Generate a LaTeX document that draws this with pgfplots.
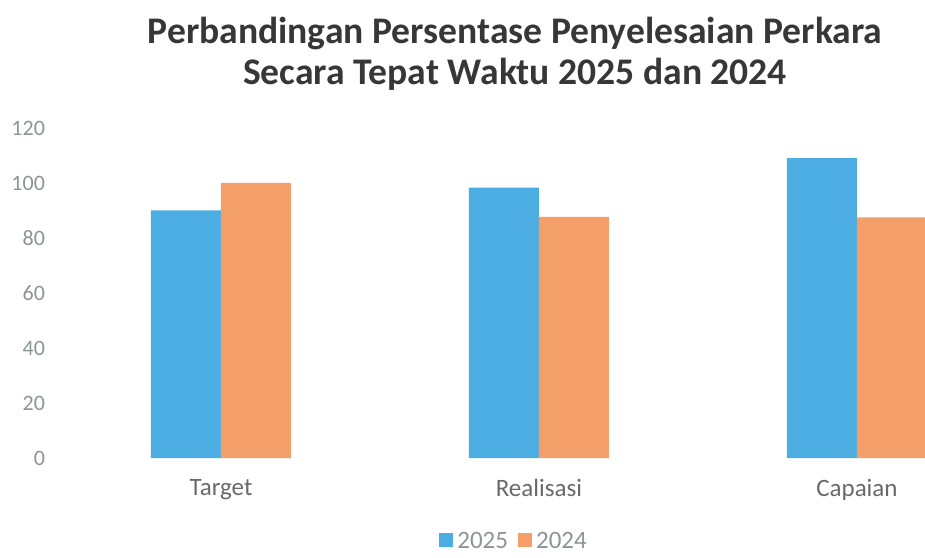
\documentclass[border=0pt]{standalone}
\usepackage{fontspec}
\setmainfont{Carlito}
\usepackage{pgfplots}
\pgfplotsset{compat=1.18}
\definecolor{b25}{RGB}{75,173,226}
\definecolor{o24}{RGB}{244,158,106}
\definecolor{tickgray}{RGB}{140,148,152}
\definecolor{labgray}{RGB}{105,105,105}
\definecolor{titlegray}{RGB}{55,55,55}
\begin{document}
\begin{tikzpicture}[x=1pt,y=1pt]
\useasboundingbox (0,0) rectangle (462.5,278.5);
\node[font=\bfseries\fontsize{18.8}{22}\selectfont, text=titlegray] at (257.5,262) {Perbandingan Persentase Penyelesaian Perkara};
\node[font=\bfseries\fontsize{18.8}{22}\selectfont, text=titlegray] at (257.5,241.5) {Secara Tepat Waktu 2025 dan 2024};
\begin{axis}[
  at={(31pt,49.5pt)}, anchor=south west, scale only axis,
  width=431.5pt, height=165pt,
  ybar=0pt, bar width=35pt,
  xmin=-0.5, xmax=2.214, ymin=0, ymax=120,
  ytick={0,20,...,120},
  xtick=data, xticklabels={Target,Realisasi,Capaian},
  axis line style={draw=none}, tick style={draw=none}, major tick length=0pt,
  /pgf/number format/assume math mode=true,
  yticklabel style={font=\fontsize{11}{13}\selectfont, text=tickgray, xshift=-5pt},
  xticklabel style={font=\fontsize{12.5}{14}\selectfont, text=labgray, yshift=-7pt},
  legend style={at={(0.525,-0.255)}, anchor=center, draw=none, legend columns=-1,
    font=\fontsize{12.5}{14}\selectfont, text=tickgray, inner sep=1pt,
    /tikz/every even column/.append style={column sep=3pt}},
  legend image code/.code={\fill[#1] (0pt,-2.5pt) rectangle (7pt,4.5pt);},
]
\addplot[fill=b25, draw=none] coordinates {(0,90) (1,98.3) (2,109)};
\addplot[fill=o24, draw=none] coordinates {(0,100) (1,87.7) (2,87.5)};
\legend{2025,2024}
\end{axis}
\end{tikzpicture}
\end{document}
